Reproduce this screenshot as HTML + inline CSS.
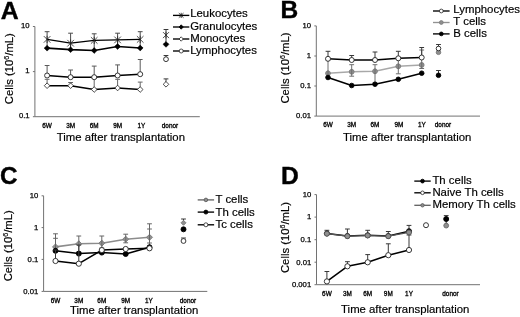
<!DOCTYPE html>
<html><head><meta charset="utf-8"><title>Figure</title>
<style>
html,body{margin:0;padding:0;background:#fff;}
body{width:520px;height:317px;overflow:hidden;}
text{stroke:#000;stroke-width:0.18px;}
svg{display:block;filter:grayscale(1);font-family:"Liberation Sans",sans-serif;fill:#000;}
</style></head><body>
<svg width="520" height="317" viewBox="0 0 520 317">
<rect width="520" height="317" fill="#fff"/>
<text x="0.8" y="18.6" font-size="24.8" text-anchor="start" font-weight="bold" style="stroke-width:0.4px">A</text>
<path d="M34.9 26.5V116.7H199.8" stroke="#727272" stroke-width="1" fill="none"/>
<text x="29.6" y="28.0" font-size="7.7" text-anchor="end" font-weight="normal" style="stroke-width:0.25px">10</text>
<path d="M32.9 26.5H34.9" stroke="#727272" stroke-width="1"/>
<text x="29.6" y="73.4" font-size="7.7" text-anchor="end" font-weight="normal" style="stroke-width:0.25px">1</text>
<path d="M32.9 71.6H34.9" stroke="#727272" stroke-width="1"/>
<text x="29.6" y="118.3" font-size="7.7" text-anchor="end" font-weight="normal" style="stroke-width:0.25px">0.1</text>
<path d="M32.9 116.7H34.9" stroke="#727272" stroke-width="1"/>
<text x="47.1" y="127.8" font-size="6.4" text-anchor="middle" font-weight="normal" style="stroke-width:0.3px">6W</text>
<text x="70.6" y="127.8" font-size="6.4" text-anchor="middle" font-weight="normal" style="stroke-width:0.3px">3M</text>
<text x="94.2" y="127.8" font-size="6.4" text-anchor="middle" font-weight="normal" style="stroke-width:0.3px">6M</text>
<text x="117.6" y="127.8" font-size="6.4" text-anchor="middle" font-weight="normal" style="stroke-width:0.3px">9M</text>
<text x="141.3" y="127.8" font-size="6.4" text-anchor="middle" font-weight="normal" style="stroke-width:0.3px">1Y</text>
<text x="170.0" y="127.8" font-size="6.4" text-anchor="middle" font-weight="normal" style="stroke-width:0.3px">donor</text>
<text x="56.7" y="140.7" font-size="11.35" textLength="128.3" lengthAdjust="spacingAndGlyphs">Time after transplantation</text>
<text transform="translate(12.5 68.7) rotate(-90)" font-size="11.3" text-anchor="middle">Cells (10<tspan font-size="7.0" dy="-4">6</tspan><tspan dy="4">/mL)</tspan></text>
<path d="M47.1 85.7V79.3M44.7 79.3H49.5" stroke="#666" stroke-width="1.0" fill="none"/>
<path d="M70.6 85.7V82.5M68.2 82.5H73.0" stroke="#666" stroke-width="1.0" fill="none"/>
<path d="M94.2 89.5V78.5M91.8 78.5H96.6" stroke="#666" stroke-width="1.0" fill="none"/>
<path d="M117.6 88.0V79.3M115.2 79.3H120.0" stroke="#666" stroke-width="1.0" fill="none"/>
<path d="M140.2 89.5V82.1M137.8 82.1H142.6" stroke="#666" stroke-width="1.0" fill="none"/>
<polyline points="47.1,85.7 70.6,85.7 94.2,89.5 117.6,88.0 140.2,89.5" fill="none" stroke="#000" stroke-width="1.55" stroke-linejoin="round"/>
<path d="M47.1 82.9L49.9 85.7L47.1 88.5L44.3 85.7Z" fill="#fff" stroke="#222" stroke-width="0.8"/>
<path d="M70.6 82.9L73.4 85.7L70.6 88.5L67.8 85.7Z" fill="#fff" stroke="#222" stroke-width="0.8"/>
<path d="M94.2 86.7L97.0 89.5L94.2 92.3L91.4 89.5Z" fill="#fff" stroke="#222" stroke-width="0.8"/>
<path d="M117.6 85.2L120.4 88.0L117.6 90.8L114.8 88.0Z" fill="#fff" stroke="#222" stroke-width="0.8"/>
<path d="M140.2 86.7L143.0 89.5L140.2 92.3L137.4 89.5Z" fill="#fff" stroke="#222" stroke-width="0.8"/>
<path d="M47.1 75.5V65.5M44.7 65.5H49.5" stroke="#5a5a5a" stroke-width="1.0" fill="none"/>
<path d="M70.6 77.2V70.0M68.2 70.0H73.0" stroke="#5a5a5a" stroke-width="1.0" fill="none"/>
<path d="M94.2 77.2V66.1M91.8 66.1H96.6" stroke="#5a5a5a" stroke-width="1.0" fill="none"/>
<path d="M117.6 75.5V64.9M115.2 64.9H120.0" stroke="#5a5a5a" stroke-width="1.0" fill="none"/>
<path d="M140.2 74.2V59.5M137.8 59.5H142.6" stroke="#5a5a5a" stroke-width="1.0" fill="none"/>
<polyline points="47.1,75.5 70.6,77.2 94.2,77.2 117.6,75.5 140.2,74.2" fill="none" stroke="#000" stroke-width="1.55" stroke-linejoin="round"/>
<circle cx="47.1" cy="75.5" r="2.5" fill="#fff" stroke="#222" stroke-width="0.9"/>
<circle cx="70.6" cy="77.2" r="2.5" fill="#fff" stroke="#222" stroke-width="0.9"/>
<circle cx="94.2" cy="77.2" r="2.5" fill="#fff" stroke="#222" stroke-width="0.9"/>
<circle cx="117.6" cy="75.5" r="2.5" fill="#fff" stroke="#222" stroke-width="0.9"/>
<circle cx="140.2" cy="74.2" r="2.5" fill="#fff" stroke="#222" stroke-width="0.9"/>
<path d="M47.1 39.4V31.7M44.7 31.7H49.5M47.1 39.4V47.5M44.7 47.5H49.5" stroke="#4a4a4a" stroke-width="1.0" fill="none"/>
<path d="M70.6 43.2V33.2M68.2 33.2H73.0M70.6 43.2V49.5M68.2 49.5H73.0" stroke="#4a4a4a" stroke-width="1.0" fill="none"/>
<path d="M94.2 40.4V33.8M91.8 33.8H96.6M94.2 40.4V50.5M91.8 50.5H96.6" stroke="#4a4a4a" stroke-width="1.0" fill="none"/>
<path d="M117.6 39.9V33.2M115.2 33.2H120.0M117.6 39.9V46.0M115.2 46.0H120.0" stroke="#4a4a4a" stroke-width="1.0" fill="none"/>
<path d="M140.2 39.4V31.7M137.8 31.7H142.6M140.2 39.4V47.5M137.8 47.5H142.6" stroke="#4a4a4a" stroke-width="1.0" fill="none"/>
<polyline points="47.1,39.4 70.6,43.2 94.2,40.4 117.6,39.9 140.2,39.4" fill="none" stroke="#000" stroke-width="1.3" stroke-linejoin="round"/>
<path d="M43.8 36.1L50.4 42.7M43.8 42.7L50.4 36.1M47.1 35.8V43.0" stroke="#222" stroke-width="0.8" fill="none"/>
<path d="M67.3 39.9L73.9 46.5M67.3 46.5L73.9 39.9M70.6 39.6V46.8" stroke="#222" stroke-width="0.8" fill="none"/>
<path d="M90.9 37.1L97.5 43.7M90.9 43.7L97.5 37.1M94.2 36.8V44.0" stroke="#222" stroke-width="0.8" fill="none"/>
<path d="M114.3 36.6L120.9 43.2M114.3 43.2L120.9 36.6M117.6 36.3V43.5" stroke="#222" stroke-width="0.8" fill="none"/>
<path d="M136.9 36.1L143.5 42.7M136.9 42.7L143.5 36.1M140.2 35.8V43.0" stroke="#222" stroke-width="0.8" fill="none"/>
<polyline points="47.1,48.2 70.6,49.7 94.2,50.5 117.6,46.5 140.2,48.0" fill="none" stroke="#000" stroke-width="1.7" stroke-linejoin="round"/>
<path d="M47.1 45.3L50.0 48.2L47.1 51.1L44.2 48.2Z" fill="#000" stroke="#000" stroke-width="0.5"/>
<path d="M70.6 46.8L73.5 49.7L70.6 52.6L67.7 49.7Z" fill="#000" stroke="#000" stroke-width="0.5"/>
<path d="M94.2 47.6L97.1 50.5L94.2 53.4L91.3 50.5Z" fill="#000" stroke="#000" stroke-width="0.5"/>
<path d="M117.6 43.6L120.5 46.5L117.6 49.4L114.7 46.5Z" fill="#000" stroke="#000" stroke-width="0.5"/>
<path d="M140.2 45.1L143.1 48.0L140.2 50.9L137.3 48.0Z" fill="#000" stroke="#000" stroke-width="0.5"/>
<path d="M166.0 35.1V29.5M163.6 29.5H168.4M166.0 35.1V43.5M163.6 43.5H168.4" stroke="#383838" stroke-width="1.0" fill="none"/>
<path d="M163.0 32.1L169.0 38.1M163.0 38.1L169.0 32.1M166.0 31.8V38.4" stroke="#222" stroke-width="0.8" fill="none"/>
<path d="M166.0 41.5L168.9 44.4L166.0 47.3L163.1 44.4Z" fill="#000" stroke="#000" stroke-width="0.5"/>
<path d="M166.0 59.2V55.5M163.6 55.5H168.4" stroke="#383838" stroke-width="1.0" fill="none"/>
<circle cx="166.0" cy="59.2" r="2.4" fill="#fff" stroke="#222" stroke-width="0.9"/>
<path d="M166.0 84.3V78.9M163.6 78.9H168.4" stroke="#383838" stroke-width="1.0" fill="none"/>
<path d="M166.0 81.5L168.8 84.3L166.0 87.1L163.2 84.3Z" fill="#fff" stroke="#222" stroke-width="0.8"/>
<path d="M173 15.4H189.3" stroke="#000" stroke-width="1.35"/>
<path d="M178.8 13.1L183.5 17.7M178.8 17.7L183.5 13.1M181.2 12.8V18.0" stroke="#111" stroke-width="0.8" fill="none"/>
<text x="190.2" y="16.6" font-size="11.4" text-anchor="start" font-weight="normal" >Leukocytes</text>
<path d="M173 27H189.3" stroke="#000" stroke-width="1.35"/>
<path d="M181.2 24.8L183.3 27.0L181.2 29.2L179.0 27.0Z" fill="#000" stroke="#000" stroke-width="0.8"/>
<text x="190.2" y="30.2" font-size="11.4" text-anchor="start" font-weight="normal" >Granulocytes</text>
<path d="M173 39H189.3" stroke="#000" stroke-width="1.35"/>
<path d="M181.2 36.8L183.3 39.0L181.2 41.2L179.0 39.0Z" fill="#fff" stroke="#222" stroke-width="0.8"/>
<text x="190.2" y="42.3" font-size="11.4" text-anchor="start" font-weight="normal" >Monocytes</text>
<path d="M173 51H189.3" stroke="#000" stroke-width="1.35"/>
<circle cx="181.2" cy="51.0" r="2.0" fill="#fff" stroke="#222" stroke-width="0.8"/>
<text x="190.2" y="54.0" font-size="11.4" text-anchor="start" font-weight="normal" >Lymphocytes</text>
<text x="280.4" y="18.2" font-size="24.5" text-anchor="start" font-weight="bold" style="stroke-width:0.4px">B</text>
<path d="M316.3 25.9V116.1H480" stroke="#727272" stroke-width="1" fill="none"/>
<text x="311.0" y="28.0" font-size="7.7" text-anchor="end" font-weight="normal" style="stroke-width:0.25px">10</text>
<path d="M314.3 25.9H316.3" stroke="#727272" stroke-width="1"/>
<text x="311.0" y="58.0" font-size="7.7" text-anchor="end" font-weight="normal" style="stroke-width:0.25px">1</text>
<path d="M314.3 56H316.3" stroke="#727272" stroke-width="1"/>
<text x="311.0" y="88.0" font-size="7.7" text-anchor="end" font-weight="normal" style="stroke-width:0.25px">0.1</text>
<path d="M314.3 86H316.3" stroke="#727272" stroke-width="1"/>
<text x="311.0" y="118.3" font-size="7.7" text-anchor="end" font-weight="normal" style="stroke-width:0.25px">0.01</text>
<path d="M314.3 116.1H316.3" stroke="#727272" stroke-width="1"/>
<text x="328.0" y="127.0" font-size="6.4" text-anchor="middle" font-weight="normal" style="stroke-width:0.3px">6W</text>
<text x="351.7" y="127.0" font-size="6.4" text-anchor="middle" font-weight="normal" style="stroke-width:0.3px">3M</text>
<text x="375.0" y="127.0" font-size="6.4" text-anchor="middle" font-weight="normal" style="stroke-width:0.3px">6M</text>
<text x="398.9" y="127.0" font-size="6.4" text-anchor="middle" font-weight="normal" style="stroke-width:0.3px">9M</text>
<text x="421.9" y="127.0" font-size="6.4" text-anchor="middle" font-weight="normal" style="stroke-width:0.3px">1Y</text>
<text x="443.0" y="127.0" font-size="6.4" text-anchor="middle" font-weight="normal" style="stroke-width:0.3px">donor</text>
<text x="343" y="140.7" font-size="11.35" textLength="128.3" lengthAdjust="spacingAndGlyphs">Time after transplantation</text>
<text transform="translate(288.8 68) rotate(-90)" font-size="11.3" text-anchor="middle">Cells (10<tspan font-size="7.0" dy="-4">6</tspan><tspan dy="4">/mL)</tspan></text>
<path d="M328.0 73.3V60.0M325.6 60.0H330.4M328.0 73.3V77.0M325.6 77.0H330.4" stroke="#6e6e6e" stroke-width="1.0" fill="none"/>
<path d="M351.7 71.8V64.7M349.3 64.7H354.1M351.7 71.8V76.2M349.3 76.2H354.1" stroke="#6e6e6e" stroke-width="1.0" fill="none"/>
<path d="M375.0 71.3V64.7M372.6 64.7H377.4M375.0 71.3V83.0M372.6 83.0H377.4" stroke="#6e6e6e" stroke-width="1.0" fill="none"/>
<path d="M398.3 66.3V59.0M395.9 59.0H400.7M398.3 66.3V73.8M395.9 73.8H400.7" stroke="#6e6e6e" stroke-width="1.0" fill="none"/>
<path d="M421.7 65.0V50.0M419.3 50.0H424.1M421.7 65.0V68.5M419.3 68.5H424.1" stroke="#6e6e6e" stroke-width="1.0" fill="none"/>
<polyline points="328.0,73.3 351.7,71.8 375.0,71.3 398.3,66.3 421.7,65.0" fill="none" stroke="#a8a8a8" stroke-width="1.55" stroke-linejoin="round"/>
<circle cx="328.0" cy="73.3" r="2.4" fill="#8f8f8f" stroke="#7a7a7a" stroke-width="0.9"/>
<circle cx="351.7" cy="71.8" r="2.4" fill="#8f8f8f" stroke="#7a7a7a" stroke-width="0.9"/>
<circle cx="375.0" cy="71.3" r="2.4" fill="#8f8f8f" stroke="#7a7a7a" stroke-width="0.9"/>
<circle cx="398.3" cy="66.3" r="2.4" fill="#8f8f8f" stroke="#7a7a7a" stroke-width="0.9"/>
<circle cx="421.7" cy="65.0" r="2.4" fill="#8f8f8f" stroke="#7a7a7a" stroke-width="0.9"/>
<path d="M328.0 70.5V76.1" stroke="#6a6a6a" stroke-width="0.9"/>
<path d="M351.7 69.0V74.6" stroke="#6a6a6a" stroke-width="0.9"/>
<path d="M375.0 68.5V74.1" stroke="#6a6a6a" stroke-width="0.9"/>
<path d="M398.3 63.5V69.1" stroke="#6a6a6a" stroke-width="0.9"/>
<path d="M421.7 62.2V67.8" stroke="#6a6a6a" stroke-width="0.9"/>
<path d="M328.0 58.8V51.3M325.6 51.3H330.4" stroke="#383838" stroke-width="1.0" fill="none"/>
<path d="M351.7 60.0V55.5M349.3 55.5H354.1" stroke="#383838" stroke-width="1.0" fill="none"/>
<path d="M375.0 60.0V52.0M372.6 52.0H377.4" stroke="#383838" stroke-width="1.0" fill="none"/>
<path d="M398.3 58.3V51.3M395.9 51.3H400.7" stroke="#383838" stroke-width="1.0" fill="none"/>
<path d="M421.7 57.5V47.5M419.3 47.5H424.1" stroke="#383838" stroke-width="1.0" fill="none"/>
<polyline points="328.0,58.8 351.7,60.0 375.0,60.0 398.3,58.3 421.7,57.5" fill="none" stroke="#000" stroke-width="1.55" stroke-linejoin="round"/>
<circle cx="328.0" cy="58.8" r="2.5" fill="#fff" stroke="#222" stroke-width="0.9"/>
<circle cx="351.7" cy="60.0" r="2.5" fill="#fff" stroke="#222" stroke-width="0.9"/>
<circle cx="375.0" cy="60.0" r="2.5" fill="#fff" stroke="#222" stroke-width="0.9"/>
<circle cx="398.3" cy="58.3" r="2.5" fill="#fff" stroke="#222" stroke-width="0.9"/>
<circle cx="421.7" cy="57.5" r="2.5" fill="#fff" stroke="#222" stroke-width="0.9"/>
<polyline points="328.0,77.5 351.7,85.5 375.0,84.2 398.3,79.3 421.7,73.2" fill="none" stroke="#000" stroke-width="1.55" stroke-linejoin="round"/>
<circle cx="328.0" cy="77.5" r="2.3" fill="#000" stroke="#000" stroke-width="0.9"/>
<circle cx="351.7" cy="85.5" r="2.3" fill="#000" stroke="#000" stroke-width="0.9"/>
<circle cx="375.0" cy="84.2" r="2.3" fill="#000" stroke="#000" stroke-width="0.9"/>
<circle cx="398.3" cy="79.3" r="2.3" fill="#000" stroke="#000" stroke-width="0.9"/>
<circle cx="421.7" cy="73.2" r="2.3" fill="#000" stroke="#000" stroke-width="0.9"/>
<path d="M438.5 48.5V44.5M436.1 44.5H440.9" stroke="#383838" stroke-width="1.0" fill="none"/>
<circle cx="438.5" cy="52.3" r="2.3" fill="#8f8f8f" stroke="#7a7a7a" stroke-width="0.9"/>
<circle cx="438.5" cy="48.5" r="2.3" fill="#fff" stroke="#222" stroke-width="0.9"/>
<path d="M438.5 75.3V70.5M436.1 70.5H440.9" stroke="#383838" stroke-width="1.0" fill="none"/>
<circle cx="438.5" cy="75.3" r="2.3" fill="#000" stroke="#000" stroke-width="0.9"/>
<path d="M433 11H449.6" stroke="#000" stroke-width="1.35"/>
<circle cx="441.3" cy="11.0" r="1.9" fill="#fff" stroke="#222" stroke-width="0.8"/>
<text x="453.3" y="12.8" font-size="11.4" text-anchor="start" font-weight="normal" >Lymphocytes</text>
<path d="M433 22.5H449.6" stroke="#929292" stroke-width="1.35"/>
<circle cx="441.3" cy="22.5" r="1.9" fill="#8f8f8f" stroke="#7a7a7a" stroke-width="0.8"/>
<text x="453.3" y="25.3" font-size="11.4" text-anchor="start" font-weight="normal" >T cells</text>
<path d="M433 33.9H449.6" stroke="#000" stroke-width="1.35"/>
<circle cx="441.3" cy="33.9" r="1.9" fill="#000" stroke="#000" stroke-width="0.8"/>
<text x="453.3" y="36.7" font-size="11.4" text-anchor="start" font-weight="normal" >B cells</text>
<text x="0.0" y="183.9" font-size="24.3" text-anchor="start" font-weight="bold" style="stroke-width:0.4px">C</text>
<path d="M43.6 195.8V291.4H207.3" stroke="#727272" stroke-width="1" fill="none"/>
<text x="38.3" y="198.0" font-size="7.7" text-anchor="end" font-weight="normal" style="stroke-width:0.25px">10</text>
<path d="M41.6 195.8H43.6" stroke="#727272" stroke-width="1"/>
<text x="38.3" y="230.0" font-size="7.7" text-anchor="end" font-weight="normal" style="stroke-width:0.25px">1</text>
<path d="M41.6 227.6H43.6" stroke="#727272" stroke-width="1"/>
<text x="38.3" y="262.0" font-size="7.7" text-anchor="end" font-weight="normal" style="stroke-width:0.25px">0.1</text>
<path d="M41.6 259.4H43.6" stroke="#727272" stroke-width="1"/>
<text x="38.3" y="294.0" font-size="7.7" text-anchor="end" font-weight="normal" style="stroke-width:0.25px">0.01</text>
<path d="M41.6 291.4H43.6" stroke="#727272" stroke-width="1"/>
<text x="55.5" y="303.0" font-size="6.4" text-anchor="middle" font-weight="normal" style="stroke-width:0.3px">6W</text>
<text x="78.8" y="303.0" font-size="6.4" text-anchor="middle" font-weight="normal" style="stroke-width:0.3px">3M</text>
<text x="101.8" y="303.0" font-size="6.4" text-anchor="middle" font-weight="normal" style="stroke-width:0.3px">6M</text>
<text x="125.6" y="303.0" font-size="6.4" text-anchor="middle" font-weight="normal" style="stroke-width:0.3px">9M</text>
<text x="148.8" y="303.0" font-size="6.4" text-anchor="middle" font-weight="normal" style="stroke-width:0.3px">1Y</text>
<text x="188.0" y="303.0" font-size="6.4" text-anchor="middle" font-weight="normal" style="stroke-width:0.3px">donor</text>
<text x="70" y="313.6" font-size="11.35" textLength="128.3" lengthAdjust="spacingAndGlyphs">Time after transplantation</text>
<text transform="translate(12.3 245.8) rotate(-90)" font-size="11.3" text-anchor="middle">Cells (10<tspan font-size="7.0" dy="-4">6</tspan><tspan dy="4">/mL)</tspan></text>
<path d="M55.5 246.9V233.8M53.1 233.8H57.9M55.5 246.9V250.0M53.1 250.0H57.9" stroke="#666" stroke-width="1.0" fill="none"/>
<path d="M78.8 243.8V236.0M76.4 236.0H81.2M78.8 243.8V252.0M76.4 252.0H81.2" stroke="#666" stroke-width="1.0" fill="none"/>
<path d="M101.8 243.2V236.0M99.4 236.0H104.2M101.8 243.2V248.0M99.4 248.0H104.2" stroke="#666" stroke-width="1.0" fill="none"/>
<path d="M125.7 239.2V234.2M123.3 234.2H128.1M125.7 239.2V242.8M123.3 242.8H128.1" stroke="#666" stroke-width="1.0" fill="none"/>
<path d="M149.5 237.3V223.8M147.1 223.8H151.9M149.5 237.3V243.0M147.1 243.0H151.9" stroke="#666" stroke-width="1.0" fill="none"/>
<polyline points="55.5,246.9 78.8,243.8 101.8,243.2 125.7,239.2 149.5,237.3" fill="none" stroke="#8c8c8c" stroke-width="1.6" stroke-linejoin="round"/>
<path d="M55.5 243.9L58.5 246.9L55.5 249.9L52.5 246.9Z" fill="#8f8f8f" stroke="#7a7a7a" stroke-width="0.9"/>
<path d="M78.8 240.8L81.8 243.8L78.8 246.8L75.8 243.8Z" fill="#8f8f8f" stroke="#7a7a7a" stroke-width="0.9"/>
<path d="M101.8 240.2L104.8 243.2L101.8 246.2L98.8 243.2Z" fill="#8f8f8f" stroke="#7a7a7a" stroke-width="0.9"/>
<path d="M125.7 236.2L128.7 239.2L125.7 242.2L122.7 239.2Z" fill="#8f8f8f" stroke="#7a7a7a" stroke-width="0.9"/>
<path d="M149.5 234.3L152.5 237.3L149.5 240.3L146.5 237.3Z" fill="#8f8f8f" stroke="#7a7a7a" stroke-width="0.9"/>
<path d="M55.5 243.9V249.9" stroke="#6a6a6a" stroke-width="0.9"/>
<path d="M78.8 240.8V246.8" stroke="#6a6a6a" stroke-width="0.9"/>
<path d="M101.8 240.2V246.2" stroke="#6a6a6a" stroke-width="0.9"/>
<path d="M125.7 236.2V242.2" stroke="#6a6a6a" stroke-width="0.9"/>
<path d="M149.5 234.3V240.3" stroke="#6a6a6a" stroke-width="0.9"/>
<path d="M55.5 250.8V238.3M53.1 238.3H57.9" stroke="#666" stroke-width="1.0" fill="none"/>
<path d="M149.5 247.2V229.0M147.1 229.0H151.9" stroke="#666" stroke-width="1.0" fill="none"/>
<polyline points="55.5,250.8 78.8,253.6 101.8,252.6 125.7,254.0 149.5,247.2" fill="none" stroke="#000" stroke-width="1.55" stroke-linejoin="round"/>
<circle cx="55.5" cy="250.8" r="2.5" fill="#000" stroke="#000" stroke-width="0.9"/>
<circle cx="78.8" cy="253.6" r="2.5" fill="#000" stroke="#000" stroke-width="0.9"/>
<circle cx="101.8" cy="252.6" r="2.5" fill="#000" stroke="#000" stroke-width="0.9"/>
<circle cx="125.7" cy="254.0" r="2.5" fill="#000" stroke="#000" stroke-width="0.9"/>
<circle cx="149.5" cy="247.2" r="2.5" fill="#000" stroke="#000" stroke-width="0.9"/>
<path d="M55.5 261.0V250.0M53.1 250.0H57.9" stroke="#383838" stroke-width="1.0" fill="none"/>
<path d="M78.8 263.7V245.0M76.4 245.0H81.2" stroke="#383838" stroke-width="1.0" fill="none"/>
<polyline points="55.5,261.0 78.8,263.7 101.8,250.1 125.7,249.0 149.5,248.3" fill="none" stroke="#000" stroke-width="1.55" stroke-linejoin="round"/>
<circle cx="55.5" cy="261.0" r="2.6" fill="#fff" stroke="#222" stroke-width="0.9"/>
<circle cx="78.8" cy="263.7" r="2.6" fill="#fff" stroke="#222" stroke-width="0.9"/>
<circle cx="101.8" cy="250.1" r="2.6" fill="#fff" stroke="#222" stroke-width="0.9"/>
<circle cx="125.7" cy="249.0" r="2.6" fill="#fff" stroke="#222" stroke-width="0.9"/>
<circle cx="149.5" cy="248.3" r="2.6" fill="#fff" stroke="#222" stroke-width="0.9"/>
<path d="M183.5 222.8V219.0M181.1 219.0H185.9" stroke="#383838" stroke-width="1.0" fill="none"/>
<path d="M183.5 220.3L186.0 222.8L183.5 225.3L181.0 222.8Z" fill="#8f8f8f" stroke="#7a7a7a" stroke-width="0.9"/>
<circle cx="183.5" cy="229.3" r="2.5" fill="#000" stroke="#000" stroke-width="0.9"/>
<path d="M183.5 241.0V238.0M181.1 238.0H185.9" stroke="#383838" stroke-width="1.0" fill="none"/>
<circle cx="183.5" cy="241.0" r="2.4" fill="#fff" stroke="#222" stroke-width="0.9"/>
<path d="M197.7 199.9H214.1" stroke="#666" stroke-width="1.35"/>
<circle cx="205.9" cy="199.9" r="1.8" fill="#8f8f8f" stroke="#555" stroke-width="0.8"/>
<text x="215.5" y="202.7" font-size="11.4" text-anchor="start" font-weight="normal" >T cells</text>
<path d="M197.7 212.1H214.1" stroke="#000" stroke-width="1.35"/>
<circle cx="205.9" cy="212.1" r="2.0" fill="#000" stroke="#000" stroke-width="0.8"/>
<text x="215.5" y="215.7" font-size="11.4" text-anchor="start" font-weight="normal" >Th cells</text>
<path d="M197.7 224.8H214.1" stroke="#000" stroke-width="1.35"/>
<circle cx="205.9" cy="224.8" r="2.0" fill="#fff" stroke="#222" stroke-width="0.8"/>
<text x="215.5" y="228.4" font-size="11.4" text-anchor="start" font-weight="normal" >Tc cells</text>
<text x="281.0" y="183.8" font-size="24.6" text-anchor="start" font-weight="bold" style="stroke-width:0.4px">D</text>
<path d="M316.5 194.6V284.7H480" stroke="#727272" stroke-width="1" fill="none"/>
<text x="311.2" y="197.0" font-size="7.7" text-anchor="end" font-weight="normal" style="stroke-width:0.25px">10</text>
<path d="M314.5 194.6H316.5" stroke="#727272" stroke-width="1"/>
<text x="311.2" y="219.4" font-size="7.7" text-anchor="end" font-weight="normal" style="stroke-width:0.25px">1</text>
<path d="M314.5 217.1H316.5" stroke="#727272" stroke-width="1"/>
<text x="311.2" y="242.0" font-size="7.7" text-anchor="end" font-weight="normal" style="stroke-width:0.25px">0.1</text>
<path d="M314.5 239.7H316.5" stroke="#727272" stroke-width="1"/>
<text x="311.2" y="264.5" font-size="7.7" text-anchor="end" font-weight="normal" style="stroke-width:0.25px">0.01</text>
<path d="M314.5 262.2H316.5" stroke="#727272" stroke-width="1"/>
<text x="311.2" y="287.0" font-size="7.7" text-anchor="end" font-weight="normal" style="stroke-width:0.25px">0.001</text>
<path d="M314.5 284.7H316.5" stroke="#727272" stroke-width="1"/>
<text x="326.9" y="296.0" font-size="6.4" text-anchor="middle" font-weight="normal" style="stroke-width:0.3px">6W</text>
<text x="347.4" y="296.0" font-size="6.4" text-anchor="middle" font-weight="normal" style="stroke-width:0.3px">3M</text>
<text x="367.7" y="296.0" font-size="6.4" text-anchor="middle" font-weight="normal" style="stroke-width:0.3px">6M</text>
<text x="388.3" y="296.0" font-size="6.4" text-anchor="middle" font-weight="normal" style="stroke-width:0.3px">9M</text>
<text x="409.0" y="296.0" font-size="6.4" text-anchor="middle" font-weight="normal" style="stroke-width:0.3px">1Y</text>
<text x="450.5" y="296.0" font-size="6.4" text-anchor="middle" font-weight="normal" style="stroke-width:0.3px">donor</text>
<text x="341.1" y="313.1" font-size="11.35" textLength="128.3" lengthAdjust="spacingAndGlyphs">Time after transplantation</text>
<text transform="translate(288.8 237.5) rotate(-90)" font-size="11.3" text-anchor="middle">Cells (10<tspan font-size="7.0" dy="-4">6</tspan><tspan dy="4">/mL)</tspan></text>
<path d="M326.9 281.4V271.5M324.5 271.5H329.3" stroke="#383838" stroke-width="1.0" fill="none"/>
<path d="M347.4 266.3V261.7M345.0 261.7H349.8" stroke="#383838" stroke-width="1.0" fill="none"/>
<path d="M367.7 262.3V254.6M365.3 254.6H370.1" stroke="#383838" stroke-width="1.0" fill="none"/>
<path d="M388.3 255.2V243.8M385.9 243.8H390.7" stroke="#383838" stroke-width="1.0" fill="none"/>
<path d="M409.0 250.0V235.0M406.6 235.0H411.4" stroke="#383838" stroke-width="1.0" fill="none"/>
<polyline points="326.9,281.4 347.4,266.3 367.7,262.3 388.3,255.2 409.0,250.0" fill="none" stroke="#000" stroke-width="1.55" stroke-linejoin="round"/>
<circle cx="326.9" cy="281.4" r="2.6" fill="#fff" stroke="#222" stroke-width="0.9"/>
<circle cx="347.4" cy="266.3" r="2.6" fill="#fff" stroke="#222" stroke-width="0.9"/>
<circle cx="367.7" cy="262.3" r="2.6" fill="#fff" stroke="#222" stroke-width="0.9"/>
<circle cx="388.3" cy="255.2" r="2.6" fill="#fff" stroke="#222" stroke-width="0.9"/>
<circle cx="409.0" cy="250.0" r="2.6" fill="#fff" stroke="#222" stroke-width="0.9"/>
<path d="M326.9 233.5V230.3M324.5 230.3H329.3" stroke="#383838" stroke-width="1.0" fill="none"/>
<path d="M347.4 236.0V229.0M345.0 229.0H349.8" stroke="#383838" stroke-width="1.0" fill="none"/>
<path d="M367.7 235.3V230.3M365.3 230.3H370.1" stroke="#383838" stroke-width="1.0" fill="none"/>
<path d="M388.3 236.0V231.5M385.9 231.5H390.7" stroke="#383838" stroke-width="1.0" fill="none"/>
<path d="M409.0 231.2V225.4M406.6 225.4H411.4" stroke="#383838" stroke-width="1.0" fill="none"/>
<polyline points="326.9,233.5 347.4,236.0 367.7,235.3 388.3,236.0 409.0,231.2" fill="none" stroke="#000" stroke-width="1.55" stroke-linejoin="round"/>
<circle cx="326.9" cy="233.5" r="2.5" fill="#000" stroke="#000" stroke-width="0.9"/>
<circle cx="347.4" cy="236.0" r="2.5" fill="#000" stroke="#000" stroke-width="0.9"/>
<circle cx="367.7" cy="235.3" r="2.5" fill="#000" stroke="#000" stroke-width="0.9"/>
<circle cx="388.3" cy="236.0" r="2.5" fill="#000" stroke="#000" stroke-width="0.9"/>
<circle cx="409.0" cy="231.2" r="2.5" fill="#000" stroke="#000" stroke-width="0.9"/>
<polyline points="326.9,233.7 347.4,236.2 367.7,235.5 388.3,236.2 409.0,232.4" fill="none" stroke="#555" stroke-width="1.2" stroke-linejoin="round"/>
<circle cx="326.9" cy="233.7" r="2.5" fill="#8f8f8f" stroke="#555" stroke-width="0.9"/>
<circle cx="347.4" cy="236.2" r="2.5" fill="#8f8f8f" stroke="#555" stroke-width="0.9"/>
<circle cx="367.7" cy="235.5" r="2.5" fill="#8f8f8f" stroke="#555" stroke-width="0.9"/>
<circle cx="388.3" cy="236.2" r="2.5" fill="#8f8f8f" stroke="#555" stroke-width="0.9"/>
<circle cx="409.0" cy="232.4" r="2.5" fill="#8f8f8f" stroke="#555" stroke-width="0.9"/>
<circle cx="426.0" cy="225.2" r="2.5" fill="#fff" stroke="#222" stroke-width="0.9"/>
<path d="M446.2 219.0V215.6M443.8 215.6H448.6" stroke="#383838" stroke-width="1.0" fill="none"/>
<path d="M446.2 219V225.5" stroke="#333" stroke-width="1"/>
<circle cx="446.2" cy="219.0" r="2.5" fill="#000" stroke="#000" stroke-width="0.9"/>
<circle cx="446.2" cy="225.6" r="2.4" fill="#8f8f8f" stroke="#666" stroke-width="0.9"/>
<path d="M414.3 181.1H430.7" stroke="#000" stroke-width="1.35"/>
<circle cx="422.5" cy="181.1" r="1.9" fill="#000" stroke="#000" stroke-width="0.8"/>
<text x="432.4" y="184.0" font-size="11.4" text-anchor="start" font-weight="normal" >Th cells</text>
<path d="M414.3 192.8H430.7" stroke="#000" stroke-width="1.35"/>
<circle cx="422.5" cy="192.8" r="1.8" fill="#fff" stroke="#222" stroke-width="0.8"/>
<text x="432.4" y="196.0" font-size="11.4" text-anchor="start" font-weight="normal" >Naive Th cells</text>
<path d="M414.3 205.3H430.7" stroke="#666" stroke-width="1.35"/>
<circle cx="422.5" cy="205.3" r="1.7" fill="#8f8f8f" stroke="#555" stroke-width="0.8"/>
<text x="432.4" y="208.0" font-size="11.4" text-anchor="start" font-weight="normal" >Memory Th cells</text>
</svg>
</body></html>
